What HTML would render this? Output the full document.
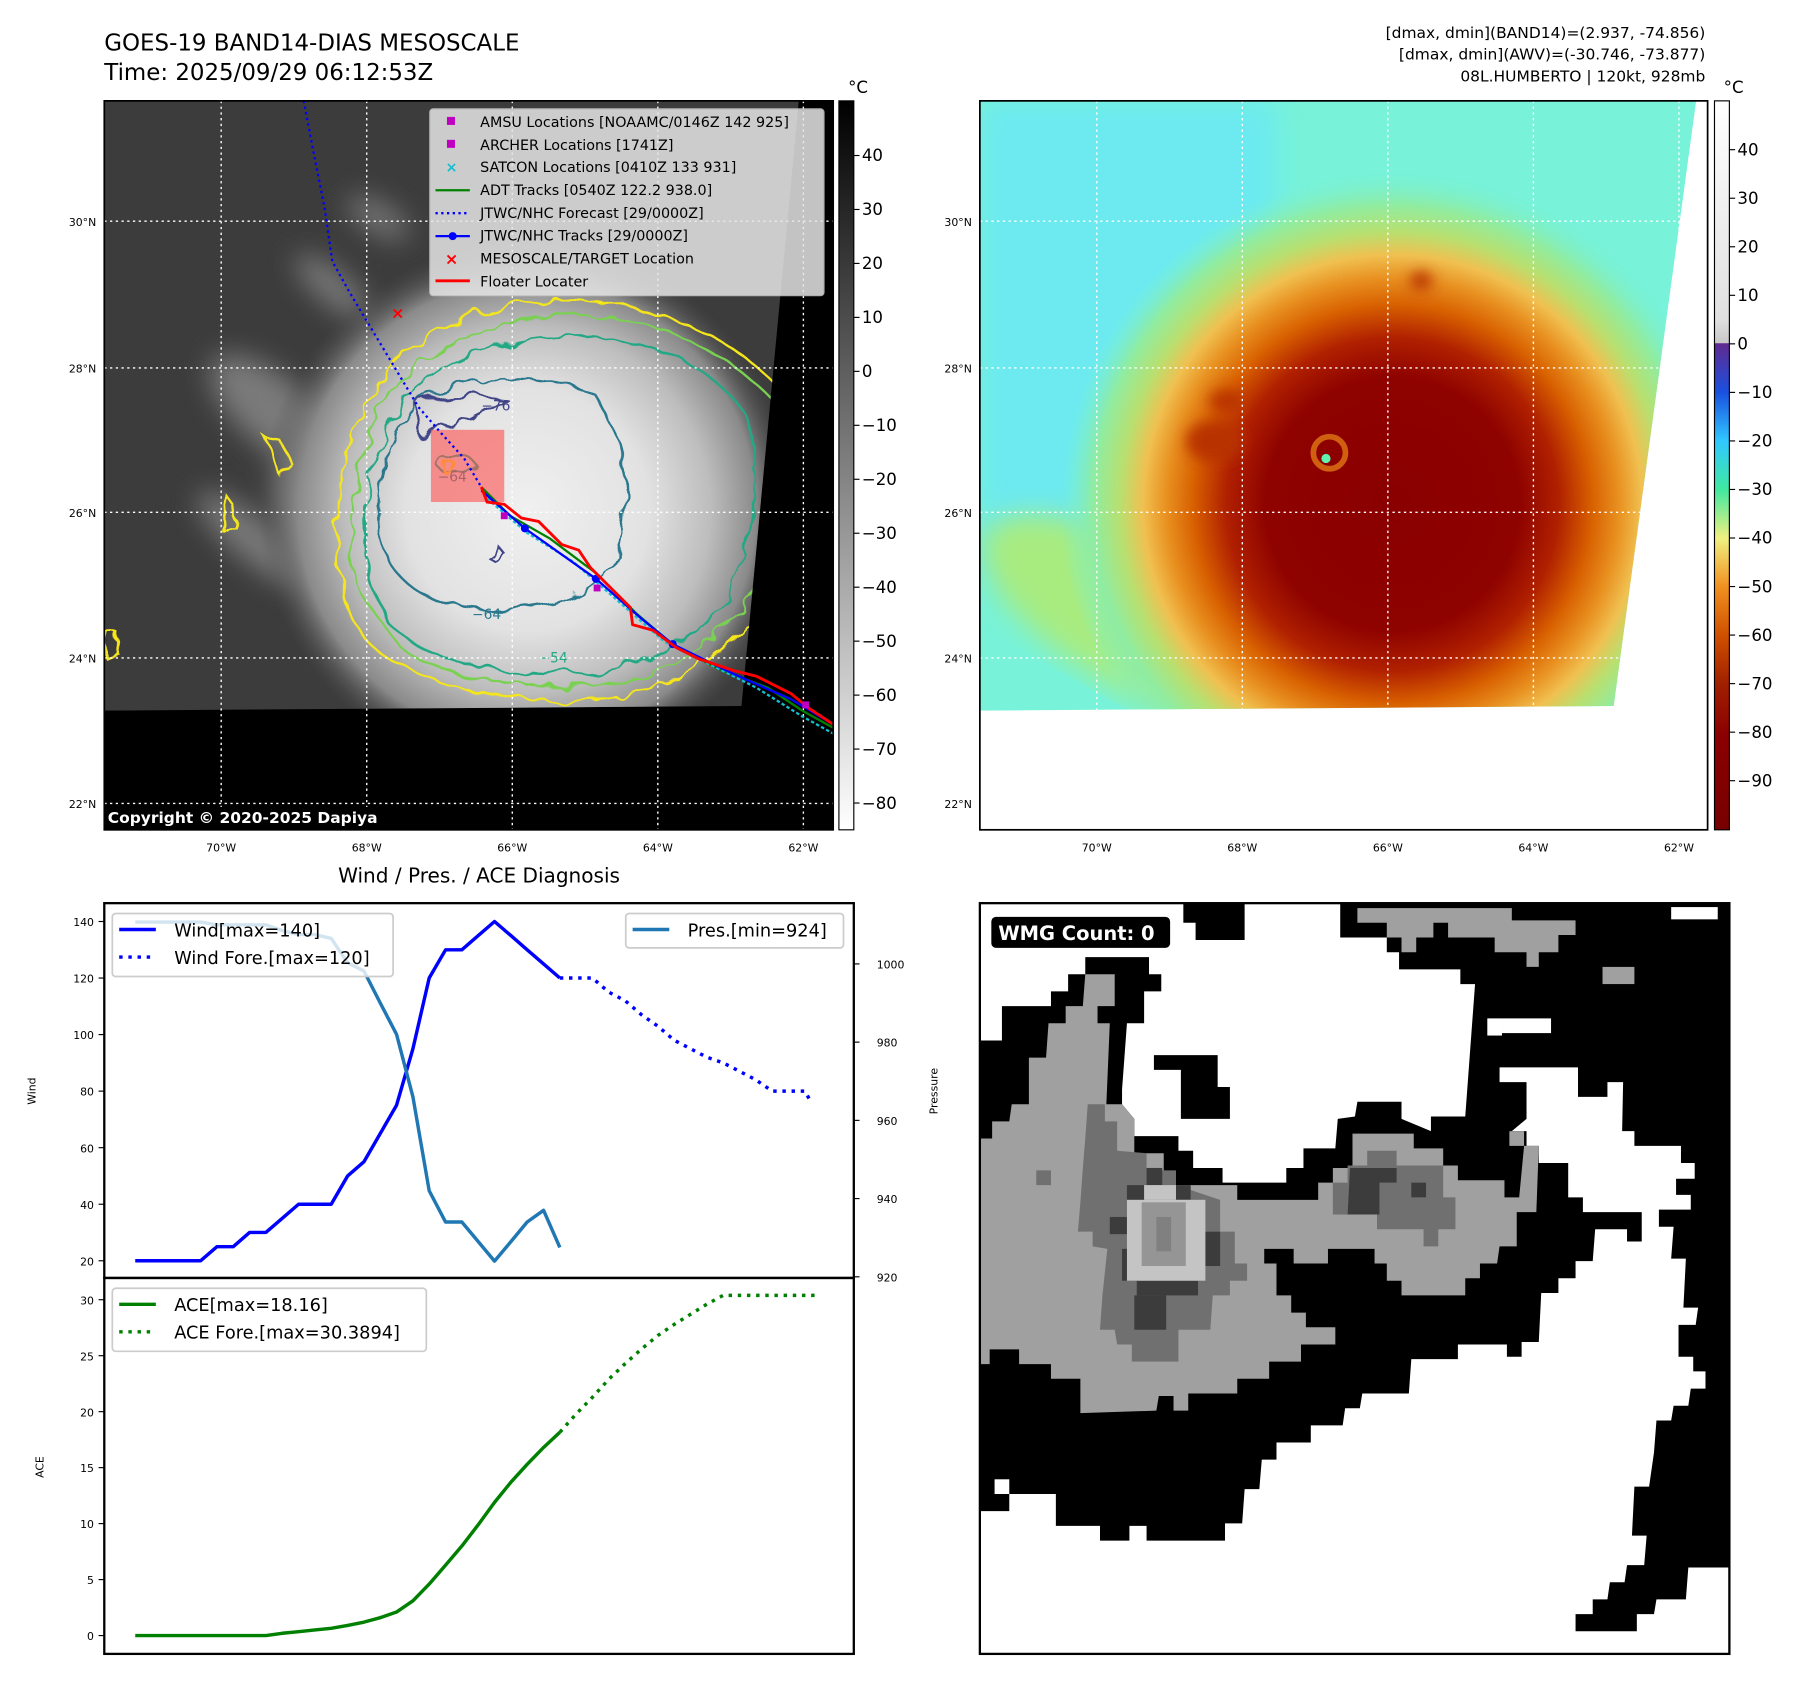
<!DOCTYPE html>
<html><head><meta charset="utf-8"><style>
html,body{margin:0;padding:0;background:#fff;}
svg{display:block;font-family:"DejaVu Sans","Liberation Sans",sans-serif;}
</style></head><body>
<svg id="root" width="1797" height="1690" viewBox="0 0 1568 1474.5" preserveAspectRatio="none" xmlns="http://www.w3.org/2000/svg">
<defs>
<filter id="wig" x="-10%" y="-10%" width="120%" height="120%"><feTurbulence type="fractalNoise" baseFrequency="0.05" numOctaves="2" seed="3"/><feDisplacementMap in="SourceGraphic" scale="14"/></filter>
<filter id="blur6"><feGaussianBlur stdDeviation="6"/></filter>
<filter id="blur12"><feGaussianBlur stdDeviation="12"/></filter>
<radialGradient id="disc" cx="460" cy="445" r="235" gradientUnits="userSpaceOnUse">
<stop offset="0" stop-color="#f0f0f0"/><stop offset="0.45" stop-color="#e2e2e2"/><stop offset="0.68" stop-color="#bdbdbd"/><stop offset="0.85" stop-color="#8a8a8a"/><stop offset="1" stop-color="#4a4a4a" stop-opacity="0"/></radialGradient>
<radialGradient id="hot" cx="1215" cy="440" r="290" gradientUnits="userSpaceOnUse">
<stop offset="0" stop-color="#8a0000"/><stop offset="0.38" stop-color="#8e0200"/><stop offset="0.5" stop-color="#b02000"/><stop offset="0.6" stop-color="#d86000"/><stop offset="0.68" stop-color="#e89020"/><stop offset="0.75" stop-color="#f0c050"/><stop offset="0.82" stop-color="#b8e070"/><stop offset="0.9" stop-color="#90eca0"/><stop offset="1" stop-color="#7af0d0" stop-opacity="0"/></radialGradient>
<linearGradient id="cbGray" x1="0" y1="0" x2="0" y2="1"><stop offset="0" stop-color="#000"/><stop offset="1" stop-color="#fff"/></linearGradient>
<linearGradient id="cbCol" x1="0" y1="88" x2="0" y2="724" gradientUnits="userSpaceOnUse">
<stop offset="0" stop-color="#ffffff"/><stop offset="0.3" stop-color="#e0e0e0"/><stop offset="0.332" stop-color="#c8c8c8"/><stop offset="0.333" stop-color="#602a90"/><stop offset="0.4" stop-color="#1a50e0"/><stop offset="0.467" stop-color="#30c8ff"/><stop offset="0.533" stop-color="#40e8a0"/><stop offset="0.6" stop-color="#f0f080"/><stop offset="0.667" stop-color="#f09020"/><stop offset="0.733" stop-color="#d05000"/><stop offset="0.8" stop-color="#a02000"/><stop offset="0.87" stop-color="#8b0000"/><stop offset="1" stop-color="#780000"/></linearGradient>
<clipPath id="leftData"><polygon points="91,88 697,88 647,616 91,620"/></clipPath>
<clipPath id="rightData"><polygon points="855,88 1480,88 1408,616 855,620"/></clipPath>
</defs>

<text x="91" y="44" font-size="20">GOES-19 BAND14-DIAS MESOSCALE</text>
<text x="91" y="70" font-size="20">Time: 2025/09/29 06:12:53Z</text>
<g font-size="13.5" text-anchor="end">
<text x="1488" y="33">[dmax, dmin](BAND14)=(2.937, -74.856)</text>
<text x="1488" y="52">[dmax, dmin](AWV)=(-30.746, -73.877)</text>
<text x="1488" y="71">08L.HUMBERTO | 120kt, 928mb</text>
</g>

<g>
<rect x="91" y="88" width="636" height="636" fill="#000"/>
<g clip-path="url(#leftData)">
<rect x="91" y="88" width="636" height="636" fill="#3c3c3c"/>
<g filter="url(#blur12)" fill="#8a8a8a" opacity="0.8">
<ellipse cx="240" cy="360" rx="70" ry="30" transform="rotate(40 240 360)"/>
<ellipse cx="220" cy="470" rx="60" ry="18" transform="rotate(40 220 470)"/>
<ellipse cx="290" cy="250" rx="40" ry="14" transform="rotate(40 290 250)"/>
<ellipse cx="330" cy="190" rx="30" ry="12" transform="rotate(30 330 190)"/>
<ellipse cx="280" cy="420" rx="40" ry="60"/>
</g>
<circle cx="460" cy="445" r="245" fill="url(#disc)"/>
<g filter="url(#wig)" fill="none" stroke-width="2">
<path d="M300,520 C285,450 300,370 340,320 C380,280 440,262 500,262 C570,264 640,290 690,350 L690,480 C670,540 620,590 540,608 C470,616 390,605 340,575 C315,560 305,540 300,520Z" stroke="#f5e61e"/>
<path d="M312,515 C300,450 312,375 350,330 C390,290 450,275 505,276 C570,278 630,300 680,355 L680,470 C660,530 610,580 540,596 C470,604 395,595 350,565 Z" stroke="#7ad151"/>
<path d="M322,505 C312,445 325,380 360,342 C400,305 455,292 510,293 C570,296 620,320 650,360 C665,400 660,460 640,510 C615,560 560,585 500,588 C430,590 370,575 340,545 Z" stroke="#22a884"/>
<path d="M332,470 C325,420 340,370 375,345 C420,325 480,325 520,345 C545,380 550,430 540,480 C525,520 480,535 420,532 C370,528 340,505 332,470Z" stroke="#2a788e"/>
<path d="M365,355 C380,340 410,345 440,348 C420,360 390,375 365,380Z" stroke="#414487"/>
<path d="M380,405 C385,395 410,395 415,405 C410,415 390,418 380,405Z" stroke="#22a884"/>
<path d="M392,402 a5,6 0 1 0 0.1,0" stroke="#fde725" stroke-width="3"/>
<path d="M425,485 l10,-8 l5,6 l-10,5Z" stroke="#414487"/>
<path d="M92,550 l8,0 l3,20 l-10,4Z" stroke="#f5e61e"/>
<path d="M195,430 l8,10 l2,20 l-8,5Z" stroke="#f5e61e"/>
<path d="M230,380 l15,5 l10,20 l-10,10Z" stroke="#f5e61e"/>
</g>
<g font-size="12" fill="#2a788e"><text x="412" y="540">−64</text><text x="382" y="420">−64</text></g>
<text x="470" y="578" font-size="12" fill="#22a884">−54</text>
<text x="420" y="358" font-size="12" fill="#414487">−76</text>
</g>
<g stroke="#fff" stroke-width="1.2" stroke-dasharray="2,3">
<line x1="193" y1="88" x2="193" y2="724"/><line x1="320" y1="88" x2="320" y2="724"/><line x1="447" y1="88" x2="447" y2="724"/><line x1="574" y1="88" x2="574" y2="724"/><line x1="701" y1="88" x2="701" y2="724"/>
<line x1="91" y1="193" x2="727" y2="193"/><line x1="91" y1="321" x2="727" y2="321"/><line x1="91" y1="447" x2="727" y2="447"/><line x1="91" y1="574" x2="727" y2="574"/><line x1="91" y1="701" x2="727" y2="701"/>
</g>
<rect x="376" y="375" width="64" height="63" fill="#ff5050" opacity="0.6"/>
<polyline points="265,88 275,140 283,180 290,228 305,255 320,280 335,305 350,330 365,355 385,378 405,400 420,425" fill="none" stroke="#0000ff" stroke-width="2" stroke-dasharray="2,3"/>
<polyline points="420,425 445,450 480,470 520,500 555,535 590,565 630,585 670,600 700,620 727,635" fill="none" stroke="#008000" stroke-width="2"/>
<polyline points="425,435 460,465 500,490 540,525 580,560 620,580 660,600 700,625 727,640" fill="none" stroke="#17becf" stroke-width="2" stroke-dasharray="3,2"/>
<polyline points="420,428 458,461 520,505 560,540 587,562 640,588 690,610 727,632" fill="none" stroke="#0000ff" stroke-width="2"/>
<g fill="#0000ff"><circle cx="458" cy="461" r="3.5"/><circle cx="520" cy="505" r="3.5"/><circle cx="587" cy="562" r="3.5"/></g>
<polyline points="420,425 425,438 440,440 455,452 470,455 490,475 505,480 515,495 535,515 550,530 552,545 570,550 590,565 610,575 640,585 660,590 690,605 706,618 727,632" fill="none" stroke="#ff0000" stroke-width="2.5"/>
<g fill="#c000c0"><rect x="437" y="447" width="6" height="6"/><rect x="518" y="510" width="6" height="6"/><rect x="700" y="612" width="6" height="6"/></g>
<text x="347" y="278" font-size="14" fill="#f00" text-anchor="middle" font-weight="bold">×</text>
<rect x="91" y="704" width="268" height="20" fill="#000"/>
<text x="94" y="718" font-size="13.5" font-weight="bold" fill="#fff">Copyright © 2020-2025 Dapiya</text>
<rect x="91" y="88" width="636" height="636" fill="none" stroke="#000" stroke-width="1.5"/>
</g>

<g font-size="12.5">
<rect x="375" y="95" width="344" height="163" rx="3" fill="#e6e6e6" opacity="0.85" stroke="#ccc"/>
<rect x="390" y="102" width="7" height="7" fill="#c000c0"/><text x="419" y="111">AMSU Locations [NOAAMC/0146Z 142 925]</text>
<rect x="390" y="122" width="7" height="7" fill="#c000c0"/><text x="419" y="131">ARCHER Locations [1741Z]</text>
<text x="394" y="150" fill="#17becf" text-anchor="middle" font-weight="bold">×</text><text x="419" y="150">SATCON Locations [0410Z 133 931]</text>
<line x1="380" y1="166" x2="410" y2="166" stroke="#008000" stroke-width="2"/><text x="419" y="170">ADT Tracks [0540Z 122.2 938.0]</text>
<line x1="380" y1="186" x2="410" y2="186" stroke="#0000ff" stroke-width="2" stroke-dasharray="2,3"/><text x="419" y="190">JTWC/NHC Forecast [29/0000Z]</text>
<line x1="380" y1="206" x2="410" y2="206" stroke="#0000ff" stroke-width="2"/><circle cx="395" cy="206" r="3.5" fill="#0000ff"/><text x="419" y="210">JTWC/NHC Tracks [29/0000Z]</text>
<text x="394" y="231" fill="#f00" text-anchor="middle" font-weight="bold" font-size="14">×</text><text x="419" y="230">MESOSCALE/TARGET Location</text>
<line x1="380" y1="245" x2="410" y2="245" stroke="#f00" stroke-width="2.5"/><text x="419" y="250">Floater Locater</text>
</g>

<g>
<rect x="855" y="88" width="635" height="636" fill="#fff"/>
<g clip-path="url(#rightData)">
<rect x="855" y="88" width="635" height="636" fill="#78f2d8"/>
<rect x="855" y="88" width="260" height="420" fill="#6ceaf0" filter="url(#blur12)"/>
<ellipse cx="990" cy="540" rx="150" ry="60" fill="#a8ec80" filter="url(#blur12)" transform="rotate(30 990 540)"/>
<circle cx="1215" cy="440" r="290" fill="url(#hot)"/>
<g fill="#b83000" filter="url(#blur6)"><ellipse cx="1060" cy="385" rx="25" ry="18"/><ellipse cx="1070" cy="350" rx="15" ry="10"/><ellipse cx="1240" cy="245" rx="10" ry="8"/></g>
<circle cx="1160" cy="395" r="14" fill="none" stroke="#d06010" stroke-width="5"/>
<circle cx="1157" cy="400" r="4" fill="#60f0b0"/>
</g>
<g stroke="#fff" stroke-width="1.2" stroke-dasharray="2,3">
<line x1="957" y1="88" x2="957" y2="724"/><line x1="1084" y1="88" x2="1084" y2="724"/><line x1="1211" y1="88" x2="1211" y2="724"/><line x1="1338" y1="88" x2="1338" y2="724"/><line x1="1465" y1="88" x2="1465" y2="724"/>
<line x1="855" y1="193" x2="1490" y2="193"/><line x1="855" y1="321" x2="1490" y2="321"/><line x1="855" y1="447" x2="1490" y2="447"/><line x1="855" y1="574" x2="1490" y2="574"/><line x1="855" y1="701" x2="1490" y2="701"/>
</g>
<rect x="855" y="88" width="635" height="636" fill="none" stroke="#000" stroke-width="1.5"/>
</g>

<g font-size="9.5" fill="#000">
<g text-anchor="end"><text x="84" y="197">30°N</text><text x="84" y="325">28°N</text><text x="84" y="451">26°N</text><text x="84" y="578">24°N</text><text x="84" y="705">22°N</text>
<text x="848" y="197">30°N</text><text x="848" y="325">28°N</text><text x="848" y="451">26°N</text><text x="848" y="578">24°N</text><text x="848" y="705">22°N</text></g>
<g text-anchor="middle"><text x="193" y="743">70°W</text><text x="320" y="743">68°W</text><text x="447" y="743">66°W</text><text x="574" y="743">64°W</text><text x="701" y="743">62°W</text>
<text x="957" y="743">70°W</text><text x="1084" y="743">68°W</text><text x="1211" y="743">66°W</text><text x="1338" y="743">64°W</text><text x="1465" y="743">62°W</text></g>
</g>

<g font-size="14.5">
<rect x="732" y="88" width="13" height="636" fill="url(#cbGray)" stroke="#000" stroke-width="1"/>
<text x="740" y="81">°C</text>
<g id="cbL"></g>
</g>
<g font-size="14.5">
<rect x="1496" y="88" width="13" height="636" fill="url(#cbCol)" stroke="#000" stroke-width="1"/>
<text x="1504" y="81">°C</text>
<g id="cbR"></g>
</g>

<g>
<rect x="855" y="788" width="654" height="655" fill="#000"/>
<g transform="translate(855,788) scale(0.4278)">
<polygon fill="#fff" points="0,0 415,0 415,40 440,40 440,75 540,75 540,0 735,0 735,70 830,70 830,100 855,100 855,135 980,135 980,165 1010,165 1000,300 990,435 920,435 920,465 860,440 860,405 770,405 765,435 730,440 725,500 660,500 660,540 625,540 625,570 525,570 495,570 495,540 435,540 435,505 405,505 405,475 315,475 315,440 290,410 290,380 300,245 335,245 335,180 370,180 370,145 345,145 345,110 215,110 215,145 180,145 180,180 145,180 145,210 45,210 45,280 0,280"/>
<polygon fill="#000" points="355,310 485,310 485,375 510,375 510,440 410,440 410,340 355,340"/>
<polygon fill="#fff" points="1060,335 1220,335 1220,395 1280,395 1280,365 1312,365 1310,465 1335,465 1335,495 1430,495 1430,530 1458,530 1458,562 1420,562 1420,595 1450,595 1450,625 1385,625 1385,660 1415,660 1410,725 1440,725 1435,825 1465,825 1460,860 1425,860 1425,925 1455,925 1455,955 1480,955 1480,990 1450,990 1445,1025 1415,1025 1410,1055 1380,1055 1375,1120 1365,1190 1335,1190 1330,1290 1360,1290 1355,1350 1320,1350 1315,1385 1285,1385 1280,1420 1250,1420 1250,1450 1215,1450 1215,1485 1340,1485 1340,1450 1375,1450 1380,1420 1440,1420 1445,1355 1528,1355 1528,1530 0,1530 0,1240 60,1240 60,1205 155,1205 155,1270 245,1270 245,1300 305,1300 305,1270 340,1270 340,1300 500,1300 500,1265 535,1265 540,1195 570,1195 575,1135 605,1135 605,1100 675,1100 675,1065 740,1065 745,1030 775,1030 780,1000 875,1000 880,930 975,930 975,900 1075,900 1075,925 1105,925 1105,895 1140,895 1145,795 1180,795 1180,765 1215,765 1215,730 1250,730 1255,665 1320,665 1320,690 1350,690 1350,630 1230,630 1230,600 1200,600 1200,530 1140,530 1140,495 1115,495 1115,465 1085,465 1115,440 1115,365 1060,365"/>
<rect x="1410" y="8" width="95" height="25" fill="#fff"/><rect x="30" y="1175" width="30" height="30" fill="#fff"/>
<rect x="1035" y="235" width="30" height="35" fill="#fff"/><rect x="1065" y="235" width="100" height="30" fill="#fff"/>
<g fill="#a0a0a0">
<polygon points="0,480 25,480 25,445 60,445 65,410 100,410 100,315 135,315 140,245 175,245 175,210 210,210 215,145 275,145 275,210 240,210 240,245 265,245 258,410 290,410 315,440 315,510 375,510 375,575 525,575 525,605 690,605 690,570 720,570 720,540 760,540 760,470 885,470 885,500 945,500 945,535 975,535 975,565 1070,565 1070,600 1100,600 1110,495 1140,495 1135,630 1095,630 1095,700 1060,700 1055,735 1020,735 1020,765 990,765 990,800 860,800 860,770 830,770 830,735 805,735 805,705 710,705 710,735 640,735 640,705 580,705 580,735 605,735 605,800 635,800 635,835 665,835 665,865 725,865 725,900 655,900 655,935 590,935 590,970 525,970 525,1000 425,1000 425,1035 395,1035 395,1005 365,1005 360,1035 205,1040 205,970 145,970 145,940 80,940 80,910 20,910 20,940 0,940"/>
<polygon points="770,10 1085,10 1085,35 1215,35 1215,65 1180,65 1180,100 1140,100 1140,130 1115,130 1115,100 1050,100 1050,70 955,70 955,40 925,40 925,70 890,70 890,100 860,100 860,70 830,70 830,40 770,40"/>
<rect x="1270" y="130" width="65" height="35"/><rect x="1080" y="465" width="30" height="30"/>
</g>
<g fill="#707070">
<polygon points="220,410 255,410 255,445 280,445 280,505 340,510 340,545 400,545 400,575 490,605 490,670 520,670 520,735 545,735 545,770 510,770 510,800 475,800 470,870 405,870 405,935 310,935 310,900 280,900 275,870 245,870 250,800 260,705 230,700 230,670 200,670 205,610 210,540 215,480"/>
<polygon points="790,505 850,505 850,535 945,535 945,600 970,600 970,665 935,665 935,700 905,700 905,665 810,665 810,635 750,635 750,535 790,535"/>
<rect x="720" y="570" width="30" height="65"/><rect x="115" y="545" width="30" height="30"/>
</g>
<g fill="#3c3c3c">
<rect x="320" y="770" width="125" height="30"/><rect x="315" y="800" width="65" height="70"/><rect x="290" y="705" width="35" height="65"/><rect x="265" y="640" width="35" height="35"/><rect x="450" y="670" width="40" height="70"/><rect x="300" y="575" width="35" height="35"/><rect x="400" y="575" width="30" height="30"/><rect x="340" y="540" width="32" height="35"/>
<polygon points="755,540 850,540 850,570 815,570 815,635 750,635"/><rect x="880" y="570" width="30" height="30"/>
</g>
<rect x="300" y="605" width="160" height="165" fill="#c4c4c4"/><rect x="335" y="575" width="65" height="30" fill="#c4c4c4"/>
<rect x="330" y="610" width="90" height="130" fill="#959595"/><rect x="360" y="640" width="30" height="70" fill="#808080"/>
</g>
<rect x="865" y="800" width="156" height="27" rx="4" fill="#000"/>
<text x="871" y="820" font-size="17" font-weight="bold" fill="#fff">WMG Count: 0</text>
<rect x="855" y="788" width="654" height="655" fill="none" stroke="#000" stroke-width="2"/>
</g>

<text x="418" y="770" font-size="17.5" text-anchor="middle">Wind / Pres. / ACE Diagnosis</text>
<g id="chart"></g>
</svg>
<script>
const obsIdx = [0,1,2,3,4,5,6,7,8,9,10,11,12,13,14,15,16,17,18,19,20,21,22,23,24,25,26];
const obsWind = [20,20,20,20,20,25,25,30,30,35,40,40,40,50,55,65,75,95,120,130,130,135,140,135,130,125,120];
const obsPres = [1010.7,1010.7,1010.7,1010.7,1010.7,1010,1010,1010,1010,1008.5,1007.5,1007.5,1006.5,1000.3,998.2,990,982,966,942,934,934,929,924,929,934,937,927.5];
const obsAce = [0,0,0,0,0,0,0,0,0,0.2,0.35,0.5,0.65,0.9,1.2,1.6,2.1,3.1,4.6,6.3,8,9.9,11.9,13.7,15.3,16.8,18.16];
const foreIdx = [26,27,28,29,30,31,32,33,34,35,36,37,38,39,40,41,41.4];
const foreWind = [120,120,120,115,112,107,103,98,95,92,90,87,84,80,80,80,76];
const foreAceIdx = [26,27,28,29,30,31,32,33,34,35,36,37,38,39,40,41,41.6];
const foreAce = [18.16,19.8,21.3,22.9,24.3,25.6,26.8,27.8,28.7,29.6,30.39,30.39,30.39,30.39,30.39,30.39,30.39];
const windTicks = [20,40,60,80,100,120,140];
const presTicks = [920,940,960,980,1000];
const aceTicks = [0,5,10,15,20,25,30];
const grayCbTicks = [40,30,20,10,0,-10,-20,-30,-40,-50,-60,-70,-80];
const colCbTicks = [40,30,20,10,0,-10,-20,-30,-40,-50,-60,-70,-80,-90];

const NS = 'http://www.w3.org/2000/svg';
const chart = document.getElementById('chart');
function mk(tag, attrs, parent, txt){
  const e = document.createElementNS(NS, tag);
  for (const k in attrs) e.setAttribute(k, attrs[k]);
  if (txt !== undefined) e.textContent = txt;
  (parent||chart).appendChild(e);
  return e;
}
const xS = i => 118 + i*14.25;
const yW = v => 1100 - (v-20)*2.4667;
const yP = v => 1114 - (v-920)*3.4125;
const yA = v => 1427 - v*9.767;
const fmt = v => String(v).replace('-', '\u2212');

const cbL = document.getElementById('cbL');
grayCbTicks.forEach(v => {
  const y = 324 - v*4.708;
  mk('line',{x1:745,x2:750,y1:y,y2:y,stroke:'#000'},cbL);
  const t = mk('text',{x:752,y:y+5},cbL,fmt(v));
  
  
});
const cbR = document.getElementById('cbR');
colCbTicks.forEach(v => {
  const y = 300 - v*4.235;
  mk('line',{x1:1509,x2:1514,y1:y,y2:y,stroke:'#000'},cbR);
  const t = mk('text',{x:1516,y:y+5},cbR,fmt(v));
  
  
});

mk('rect',{x:91,y:788,width:654,height:327,fill:'none',stroke:'#000','stroke-width':2});
mk('rect',{x:91,y:1115,width:654,height:328,fill:'none',stroke:'#000','stroke-width':2});
windTicks.forEach(v => {
  const y = yW(v);
  mk('line',{x1:86,x2:91,y1:y,y2:y,stroke:'#000'});
  const t = mk('text',{x:82,y:y+4,'font-size':9.5,'text-anchor':'end'},chart,v);
  
  
});
presTicks.forEach(v => {
  const y = yP(v);
  mk('line',{x1:745,x2:750,y1:y,y2:y,stroke:'#000'});
  const t = mk('text',{x:765,y:y+4,'font-size':9.5},chart,v);
  
  
});
aceTicks.forEach(v => {
  const y = yA(v);
  mk('line',{x1:86,x2:91,y1:y,y2:y,stroke:'#000'});
  const t = mk('text',{x:82,y:y+4,'font-size':9.5,'text-anchor':'end'},chart,v);
  
  
});
let t;
t = mk('text',{x:0,y:0,'font-size':9.5,'text-anchor':'middle',transform:'translate(31,952) rotate(-90)'},chart,'Wind');
 
t = mk('text',{x:0,y:0,'font-size':9.5,'text-anchor':'middle',transform:'translate(818,952) rotate(-90)'},chart,'Pressure');
 
t = mk('text',{x:0,y:0,'font-size':9.5,'text-anchor':'middle',transform:'translate(38,1280) rotate(-90)'},chart,'ACE');
 

function line(xs, ys, yf, color, dash, name){
  const pts = xs.map((x,i)=> xS(x).toFixed(1)+','+yf(ys[i]).toFixed(1)).join(' ');
  const a = {points:pts,fill:'none',stroke:color,'stroke-width':3,'stroke-linejoin':'round'};
  if (dash) a['stroke-dasharray'] = dash;
  const p = mk('polyline',a);
  
  
}
line(obsIdx, obsWind, yW, '#0000ff', null, 'wind-line');
line(foreIdx, foreWind, yW, '#0000ff', '3,5', 'wind-forecast-line');
line(obsIdx, obsPres, yP, '#1f77b4', null, 'pressure-line');
line(obsIdx, obsAce, yA, '#008000', null, 'ace-line');
line(foreAceIdx, foreAce, yA, '#008000', '3,5', 'ace-forecast-line');

function legend(x,y,w,h,items,name){
  const g = mk('g',{});
  
  
  mk('rect',{x:x,y:y,width:w,height:h,rx:3,fill:'#fff','fill-opacity':0.8,stroke:'#ccc','stroke-width':1.5},g);
  items.forEach((it,i)=>{
    const cy = y+14+i*24;
    const a = {x1:x+6,x2:x+38,y1:cy,y2:cy,stroke:it[1],'stroke-width':3};
    if (it[2]) a['stroke-dasharray']='3,5';
    mk('line',a,g);
    mk('text',{x:x+54,y:cy+6,'font-size':15.5},g,it[0]);
  });
}
legend(98,797,245,55,[['Wind[max=140]','#0000ff',false],['Wind Fore.[max=120]','#0000ff',true]],'wind-legend');
legend(546,797,190,30,[['Pres.[min=924]','#1f77b4',false]],'pressure-legend');
legend(98,1124,274,55,[['ACE[max=18.16]','#008000',false],['ACE Fore.[max=30.3894]','#008000',true]],'ace-legend');
</script>
</body></html>
